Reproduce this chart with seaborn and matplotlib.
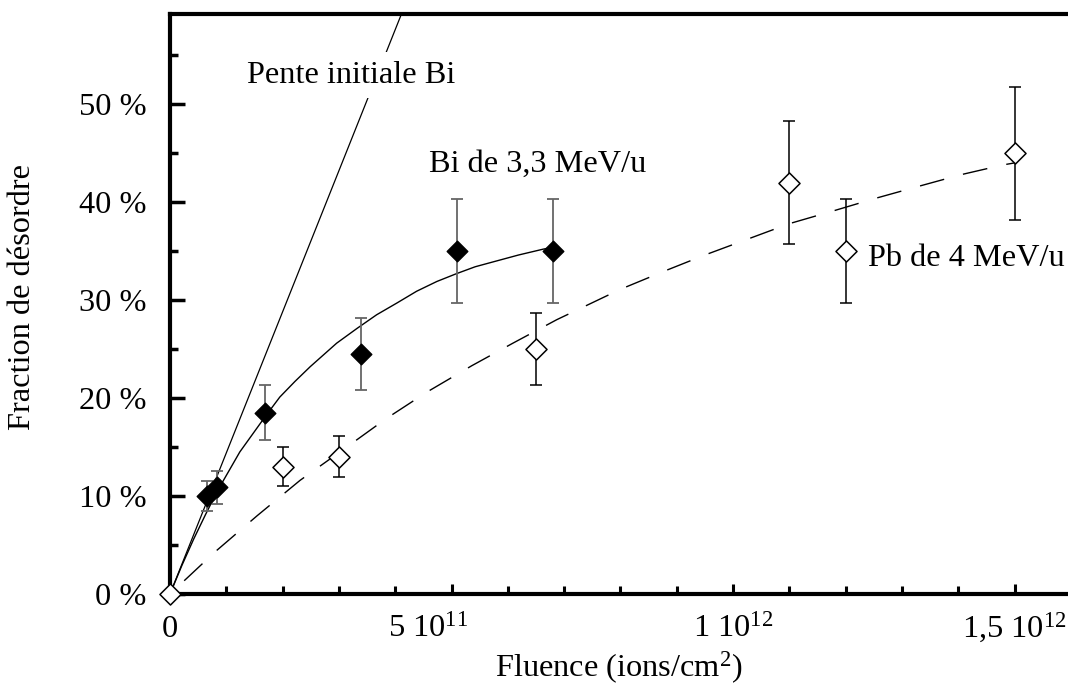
import matplotlib
matplotlib.use("Agg")
import matplotlib.pyplot as plt
import matplotlib.transforms as mtransforms
import seaborn as sns
import pandas as pd
from matplotlib.ticker import MultipleLocator

# Bi 3.3 MeV/u measurements (filled diamonds)
bi_fluence = [0.66e11, 0.84e11, 1.69e11, 3.39e11, 5.10e11, 6.80e11]
bi_disorder = [10.0, 10.9, 18.5, 24.5, 35.0, 35.0]
bi_err = [1.5, 1.7, 2.8, 3.7, 5.3, 5.3]

# Pb 4 MeV/u measurements (open diamonds)
pb_fluence = [0.0, 2.0e11, 3.0e11, 6.5e11, 11.0e11, 12.0e11, 15.0e11]
pb_disorder = [0.0, 13.0, 14.0, 25.0, 42.0, 35.0, 45.0]
pb_err = [0.0, 2.0, 2.1, 3.7, 6.3, 5.3, 6.8]

# fit curves
bi_fit_x = [0, 0.21e11, 0.42e11, 0.63e11, 0.84e11, 1.05e11, 1.24e11, 1.69e11,
            1.95e11, 2.22e11, 2.49e11, 2.96e11, 3.32e11, 3.67e11, 4.03e11,
            4.38e11, 4.74e11, 5.09e11, 5.42e11, 5.74e11, 6.19e11, 6.63e11, 6.81e11]
bi_fit_y = [0, 2.9, 5.6, 8.1, 10.5, 12.6, 14.5, 18.1,
            20.1, 21.7, 23.2, 25.6, 27.1, 28.5, 29.7,
            30.9, 31.9, 32.7, 33.4, 33.9, 34.6, 35.2, 35.4]

pb_fit_x = [0, 0.8e11, 1.55e11, 2.31e11, 3.14e11, 3.84e11, 4.56e11, 5.36e11,
            6.09e11, 6.87e11, 8.0e11, 8.8e11, 9.5e11, 10.25e11, 11.0e11,
            11.78e11, 12.54e11, 13.29e11, 14.05e11, 14.8e11, 15.0e11]
pb_fit_y = [0, 4.3, 8.0, 11.6, 15.0, 17.9, 20.6, 23.3,
            25.6, 28.0, 31.1, 33.0, 34.6, 36.2, 37.8,
            39.1, 40.4, 41.6, 42.8, 43.8, 44.0]

# initial slope for Bi
slope_x = [0, 4.5e11]
slope_y = [0, 64.8]

xticks = [0, 5e11, 1e12, 1.5e12]
xtick_labels = ["0", "5 10$^{11}$", "1 10$^{12}$", "1,5 10$^{12}$"]
yticks = [0, 10, 20, 30, 40, 50]
ytick_labels = ["0 %", "10 %", "20 %", "30 %", "40 %", "50 %"]

sns.set_theme(style="white", rc={"text.color": "black", "axes.labelcolor": "black",
                                 "xtick.color": "black", "ytick.color": "black",
                                 "axes.edgecolor": "black"})
plt.rcParams["font.family"] = ["Liberation Serif", "DejaVu Serif"]
plt.rcParams["mathtext.fontset"] = "custom"
plt.rcParams["mathtext.rm"] = "Liberation Serif"
plt.rcParams["mathtext.it"] = "Liberation Serif:italic"

fs = 23.3

fig = plt.figure(figsize=(10.68, 6.88), dpi=100)
ax = fig.add_axes([170 / 1068, 1 - 594 / 688, 898 / 1068, 580 / 688])

bi_fit = pd.DataFrame({"x": bi_fit_x, "y": bi_fit_y})
pb_fit = pd.DataFrame({"x": pb_fit_x, "y": pb_fit_y})
sns.lineplot(data=bi_fit, x="x", y="y", ax=ax, color="black", linewidth=1.0,
             sort=False, estimator=None, zorder=2)
sns.lineplot(data=pb_fit, x="x", y="y", ax=ax, color="black", linewidth=1.0,
             sort=False, estimator=None, zorder=2)
ax.lines[-1].set_linestyle((18, (18, 14)))
ax.plot(slope_x, slope_y, color="black", linewidth=0.9, zorder=2)

ax.errorbar(bi_fluence, bi_disorder, yerr=bi_err, fmt="none", ecolor="#666666",
            elinewidth=1.3, capsize=4, capthick=1.3, zorder=3)
ax.errorbar(pb_fluence[1:], pb_disorder[1:], yerr=pb_err[1:], fmt="none", ecolor="black",
            elinewidth=1.1, capsize=4, capthick=1.1, zorder=3)

sns.scatterplot(x=bi_fluence, y=bi_disorder, ax=ax, marker="D", s=110,
                color="black", edgecolor="black", linewidth=1, zorder=4)
sns.scatterplot(x=pb_fluence, y=pb_disorder, ax=ax, marker="D", s=115,
                color="white", edgecolor="black", linewidth=1.1, zorder=5,
                clip_on=False)

ax.set_xlim(0, 1.595e12)
ax.set_ylim(0, 59.2)

for side in ["top", "left", "bottom"]:
    ax.spines[side].set_linewidth(3)
    ax.spines[side].set_color("black")
ax.spines["right"].set_visible(False)

ax.set_xticks(xticks)
ax.set_xticklabels(xtick_labels)
ax.set_yticks(yticks)
ax.set_yticklabels(ytick_labels)
ax.xaxis.set_minor_locator(MultipleLocator(1e11))
ax.yaxis.set_minor_locator(MultipleLocator(5))

ax.tick_params(axis="y", which="major", direction="in", left=True, right=False,
               length=11, width=2.5, pad=17, labelsize=fs)
ax.tick_params(axis="y", which="minor", direction="in", left=True, right=False,
               length=6, width=2.5)
ax.tick_params(axis="x", which="major", direction="in", bottom=True, top=False,
               length=7, width=2.2, pad=31, labelsize=fs)
ax.tick_params(axis="x", which="minor", direction="in", bottom=True, top=False,
               length=6, width=2.2)
for tick in ax.xaxis.get_major_ticks():
    tick.label1.set_verticalalignment("baseline")

# the 5 10^11 label sits a little left of its tick in the original
lbl = ax.xaxis.get_major_ticks()[1].label1
lbl.set_transform(lbl.get_transform() + mtransforms.ScaledTranslation(-0.23, 0, fig.dpi_scale_trans))

ax.set_xlabel("Fluence (ions/cm$^2$)", fontsize=fs)
ax.xaxis.set_label_coords(0.5, -0.096)
ax.set_ylabel("Fraction de désordre", fontsize=fs)
ax.yaxis.set_label_coords(-0.148, 0.512)

ax.text(1.37e11, 52.2, "Pente initiale Bi", fontsize=fs, va="baseline", zorder=6,
        bbox=dict(facecolor="white", edgecolor="none", pad=6))
ax.text(4.6e11, 43.1, "Bi de 3,3 MeV/u", fontsize=fs, va="baseline")
ax.text(12.4e11, 33.5, "Pb de 4 MeV/u", fontsize=fs, va="baseline")

fig.savefig("out.png", dpi=100)
